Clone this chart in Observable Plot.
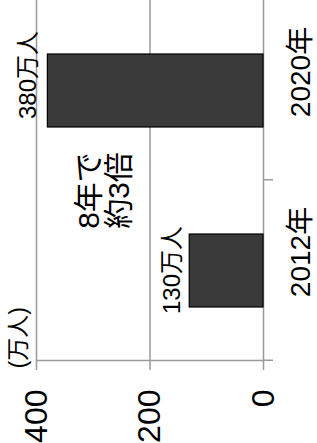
<!DOCTYPE html>
<html>
<head>
<meta charset="utf-8">
<script src="https://cdn.jsdelivr.net/npm/d3@7"></script>
<script src="https://cdn.jsdelivr.net/npm/@observablehq/plot@0.6"></script>
<style>
  html, body { margin: 0; padding: 0; background: #fff; }
  #wrap { position: relative; width: 317px; height: 443px; overflow: hidden; background: #fff; }
  #chart { position: absolute; left: 0; top: 443px; width: 443px; height: 317px; transform-origin: 0 0; transform: rotate(-90deg); }
  #chart svg { max-width: none !important; width: 443px; height: 317px; display: block; }
</style>
</head>
<body>
<div id="wrap"><div id="chart"></div></div>
<script>
const years = ["2012年", "2020年"];
const values = [130, 380];
const unit = "万人";
const yTicks = [0, 200, 400];
const noteLines = ["8年で", "約3倍"];
const axisUnit = "(万人)";

const data = years.map((year, i) => ({year, value: values[i]}));
const grid = "#9a9a9a";
const font = '"Liberation Sans", "Noto Sans CJK JP", sans-serif';

const chart = Plot.plot({
  width: 443,
  height: 317,
  marginLeft: 82,
  marginRight: 0,
  marginTop: 36,
  marginBottom: 54,
  style: {fontFamily: font, background: "#fff", color: "#000", maxWidth: "none"},
  x: {domain: years, paddingInner: 0.596, paddingOuter: 0.298},
  y: {domain: [0, 400]},
  marks: [
    Plot.gridY(yTicks, {stroke: grid, strokeOpacity: 1, strokeWidth: 1.5}),
    Plot.frame({anchor: "left", stroke: grid, strokeWidth: 1.5}),
    Plot.axisY(yTicks, {tickSize: 9, tickPadding: 20, fontSize: 32, stroke: grid, strokeWidth: 1.5, fill: "#000", label: null}),
    Plot.axisX(["2012年"], {tickSize: 10, tickFormat: () => "", dx: -90.25, stroke: grid, strokeWidth: 1.5, label: null}),
    Plot.axisX(["2012年"], {tickSize: 10, tickFormat: () => "", dx: 90.25, stroke: grid, strokeWidth: 1.5, label: null}),
    Plot.axisX(years, {tickSize: 0, tickPadding: 27, fontSize: 28, dx: 18, fill: "#000", label: null}),
    Plot.barY(data, {x: "year", y: "value", fill: "#3a3a3a", stroke: "#000", strokeWidth: 1.2}),
    Plot.text(data, {filter: d => d.year === years[0], x: "year", y: "value", text: d => `${d.value}${unit}`, lineAnchor: "bottom", dy: -10, fontSize: 24, fill: "#000"}),
    Plot.text(data, {filter: d => d.year === years[1], x: "year", y: "value", text: d => `${d.value}${unit}`, lineAnchor: "bottom", dy: -12, dx: 15, fontSize: 24, fill: "#000"}),
    Plot.text([noteLines.join("\n")], {frameAnchor: "top-left", dx: 170, dy: 68, textAnchor: "middle", lineAnchor: "middle", lineHeight: 1, fontSize: 30, fill: "#000"}),
    Plot.text([axisUnit], {frameAnchor: "top-left", dx: -8, dy: -18, textAnchor: "start", lineAnchor: "middle", fontSize: 23, fill: "#000"})
  ]
});
document.getElementById("chart").appendChild(chart);
</script>
</body>
</html>
